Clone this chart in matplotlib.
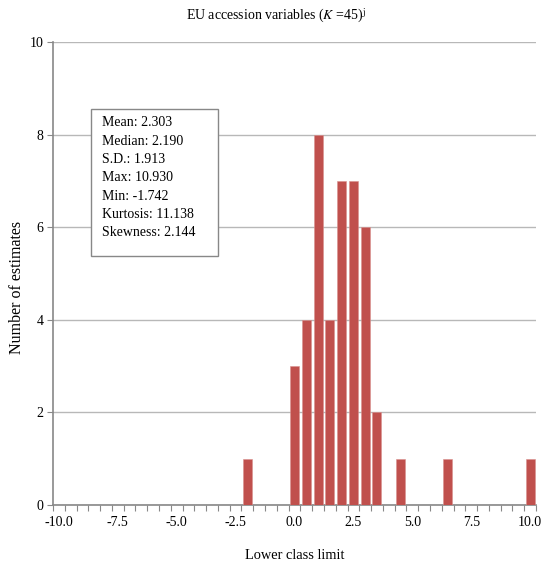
import numpy as np
import matplotlib
matplotlib.use('Agg')
import matplotlib.pyplot as plt

# Lower class limits (bins of 0.5 from -10 to 10)
classes = np.arange(-10.0, 10.01, 0.5)
# Number of estimates in each non-empty class
filled_classes = [-2.0, 0.0, 0.5, 1.0, 1.5, 2.0, 2.5, 3.0, 3.5, 4.5, 6.5, 10.0]
filled_counts = [1, 3, 4, 8, 4, 7, 7, 6, 2, 1, 1, 1]

stats_text = ['Mean: 2.303', 'Median: 2.190', 'S.D.: 1.913', 'Max: 10.930',
              'Min: -1.742', 'Kurtosis: 11.138', 'Skewness: 2.144']

counts = np.zeros(len(classes))
for c, n in zip(filled_classes, filled_counts):
    counts[int(round((c + 10.0) / 0.5))] = n

plt.rcParams['font.family'] = ['Liberation Serif', 'DejaVu Serif']
plt.rcParams['font.size'] = 10

fig = plt.figure(figsize=(5.43, 5.62), dpi=100)
ax = fig.add_axes([53 / 543, 1 - 505 / 562, 483 / 543, 463 / 562])

x = np.arange(len(classes))
ax.bar(x, counts, width=0.77, color='#C0504D', edgecolor='#D9908E', linewidth=0.4, zorder=3)

ax.set_xlim(-0.5, len(classes) - 0.5)
ax.set_ylim(0, 10)
ax.set_yticks([0, 2, 4, 6, 8, 10])
ax.yaxis.grid(True, color='#B8B8B8', linewidth=1.0, zorder=0)

lab_idx = x[::5]
ax.set_xticks(lab_idx)
ax.set_xticklabels(['%.1f' % classes[i] for i in lab_idx])
ax.set_xticks(np.arange(-0.5, len(classes), 1.0), minor=True)
ax.tick_params(axis='x', which='major', length=0, pad=8)
ax.tick_params(axis='x', which='minor', length=4, color='#888888', width=0.8)
ax.tick_params(axis='y', length=4, color='#888888', width=0.8, pad=3)

for s in ['top', 'right']:
    ax.spines[s].set_visible(False)
for s in ['left', 'bottom']:
    ax.spines[s].set_color('#888888')
    ax.spines[s].set_linewidth(1.2)

ax.set_xlabel('Lower class limit', labelpad=14, fontsize=10.4)
ax.set_ylabel('Number of estimates', fontsize=11.5)
ax.yaxis.set_label_coords((25 - 53) / 483, (505 - 287) / 463)

fig.text(276 / 543, 1 - 16 / 562, 'EU accession variables ($\\mathit{K}$ =45)$^{\\mathrm{j}}$',
         ha='center', va='center', fontsize=10, math_fontfamily='stix')

# statistics box
box = plt.Rectangle((91 / 543, 1 - 256 / 562), 127 / 543, 147 / 562, transform=fig.transFigure,
                    facecolor='white', edgecolor='#888888', linewidth=1.0, zorder=5)
fig.patches.append(box)
for i, t in enumerate(stats_text):
    fig.text(102 / 543, 1 - (123 + i * 18.3) / 562, t, ha='left', va='center', fontsize=10, zorder=6)

fig.savefig('out.png', dpi=100)
